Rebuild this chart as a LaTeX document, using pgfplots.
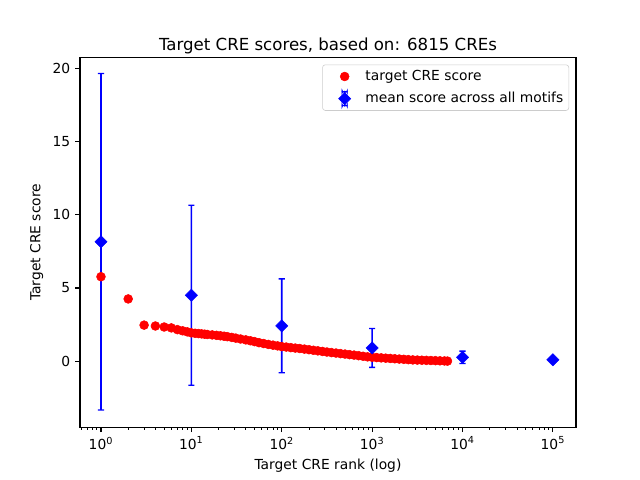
\documentclass[border=0pt]{standalone}
\usepackage{pgfplots}
\pgfplotsset{compat=1.18}
\usepackage{fontspec}
\setmainfont{DejaVu Sans}
\begin{document}
\fontsize{10}{12}\selectfont
\begin{tikzpicture}
\path[use as bounding box] (-0.8in,-0.528in) rectangle (5.6in,4.272in);
\begin{axis}[
  at={(0,0)}, anchor=south west,
  scale only axis, width=4.96in, height=3.696in,
  xmode=log, log basis x=10,
  xmin=0.586, xmax=1.8e5,
  ymin=-4.52, ymax=20.75,
  xtick={1,10,100,1000,10000,100000},
  xticklabels={10\textsuperscript{0},10\textsuperscript{1},10\textsuperscript{2},10\textsuperscript{3},10\textsuperscript{4},10\textsuperscript{5}},
  minor xtick={0.6,0.7,0.8,0.9,2,3,4,5,6,7,8,9,20,30,40,50,60,70,80,90,200,300,400,500,600,700,800,900,2000,3000,4000,5000,6000,7000,8000,9000,20000,30000,40000,50000,60000,70000,80000,90000},
  ytick={0,5,10,15,20},
  /pgf/number format/assume math mode=true,
  tick align=outside, tick pos=left,
  major tick length=3.5pt, minor tick length=2pt,
  every major tick/.style={black, line width=0.8pt},
  every minor tick/.style={black, line width=0.6pt},
  axis line style={line width=0.8pt},
  tick label style={font=\fontsize{10}{12}\selectfont},
  title={Target CRE scores, based on: 6815 CREs},
  title style={font=\fontsize{12}{14}\selectfont, yshift=-7pt},
  xlabel={Target CRE rank (log)},
  ylabel={Target CRE score},
  label style={font=\fontsize{10}{12}\selectfont},
  legend style={at={(1,1)}, anchor=north east, xshift=-5pt, yshift=-5pt,
    draw=black!20, rounded corners=2pt, font=\fontsize{10}{12}\selectfont,
    inner sep=2pt, row sep=3pt},
  legend cell align=left,
]
\addplot[red, only marks, mark=*, mark options={draw=red, fill=red}, mark size=3.2pt,
  legend image code/.code={
    \path[draw=none] (-4pt,0pt) -- (23pt,0pt);
    \draw[red, mark=*, mark size=3.2pt, mark options={draw=red, fill=red}] plot coordinates {(10pt,0pt)};
  }] coordinates {
(1,5.77) (2,4.25) (3,2.46) (4,2.40) (5,2.33) (6,2.27) (7,2.15) (8,2.07) (9,2.00) (10,1.93)
(11,1.90) (12,1.88) (13,1.86) (14,1.84) (15,1.82) (17,1.79) (19,1.76) (21,1.73) (23,1.70) (25,1.67)
(28,1.62) (31,1.57) (35,1.51) (40,1.45) (45,1.39) (50,1.33) (56,1.26) (63,1.20) (71,1.14) (80,1.09)
(90,1.04) (100,0.99) (112,0.96) (126,0.92) (141,0.89) (158,0.86) (178,0.82) (200,0.78) (224,0.74) (251,0.70)
(282,0.66) (316,0.62) (355,0.58) (398,0.55) (447,0.51) (501,0.48) (562,0.44) (631,0.41) (708,0.37) (794,0.33)
(891,0.29) (1000,0.26) (1122,0.24) (1259,0.22) (1413,0.20) (1585,0.18) (1778,0.16) (1995,0.14) (2239,0.12) (2512,0.10)
(2818,0.08) (3162,0.07) (3548,0.06) (3981,0.05) (4467,0.04) (5012,0.03) (5623,0.02) (6310,0.01) (6815,0.00)
};
\addlegendentry{target CRE score}
% error bars (mean +- spread), drawn as filled I-shapes
\pgfplotsset{ebar/.style={fill=blue, draw=none, forget plot}}
\addplot[ebar] coordinates {(0.9251,19.705) (1.081,19.705) (1.081,19.615) (1.0214,19.615) (1.0214,-3.295) (1.081,-3.295) (1.081,-3.385) (0.9251,-3.385) (0.9251,-3.295) (0.979,-3.295) (0.979,19.615) (0.9251,19.615)} -- cycle;
\addplot[ebar] coordinates {(9.251,10.695) (10.81,10.695) (10.81,10.605) (10.214,10.605) (10.214,-1.605) (10.81,-1.605) (10.81,-1.695) (9.251,-1.695) (9.251,-1.605) (9.79,-1.605) (9.79,10.605) (9.251,10.605)} -- cycle;
\addplot[ebar] coordinates {(92.51,5.665) (108.1,5.665) (108.1,5.575) (102.14,5.575) (102.14,-0.755) (108.1,-0.755) (108.1,-0.845) (92.51,-0.845) (92.51,-0.755) (97.9,-0.755) (97.9,5.575) (92.51,5.575)} -- cycle;
\addplot[ebar] coordinates {(925.1,2.275) (1081,2.275) (1081,2.185) (1021.4,2.185) (1021.4,-0.385) (1081,-0.385) (1081,-0.475) (925.1,-0.475) (925.1,-0.385) (979,-0.385) (979,2.185) (925.1,2.185)} -- cycle;
\addplot[ebar] coordinates {(9251,0.725) (10810,0.725) (10810,0.635) (10214,0.635) (10214,-0.115) (10810,-0.115) (10810,-0.205) (9251,-0.205) (9251,-0.115) (9790,-0.115) (9790,0.635) (9251,0.635)} -- cycle;
\addplot[ebar] coordinates {(92510,0.165) (108100,0.165) (108100,0.015) (92510,0.015)} -- cycle;
\addplot[blue, only marks, mark=square*, mark size=3.1pt, mark options={rotate=45, draw=blue, fill=blue},
  legend image code/.code={
    \path[draw=none] (-4pt,0pt) -- (23pt,0pt);
    \fill[blue] (9.4pt,-5pt) rectangle (10.6pt,5pt);
    \fill[blue] (8pt,-5.5pt) rectangle (12pt,-4.5pt) (8pt,4.5pt) rectangle (12pt,5.5pt);
    \draw[mark=square*, mark size=3.1pt, mark options={rotate=45, draw=blue, fill=blue}] plot coordinates {(10pt,0pt)};
  }]
coordinates {(1,8.16) (10,4.50) (100,2.41) (1000,0.90) (10000,0.26) (100000,0.09)};
\addlegendentry{mean score across all motifs}
\end{axis}
\end{tikzpicture}
\end{document}
